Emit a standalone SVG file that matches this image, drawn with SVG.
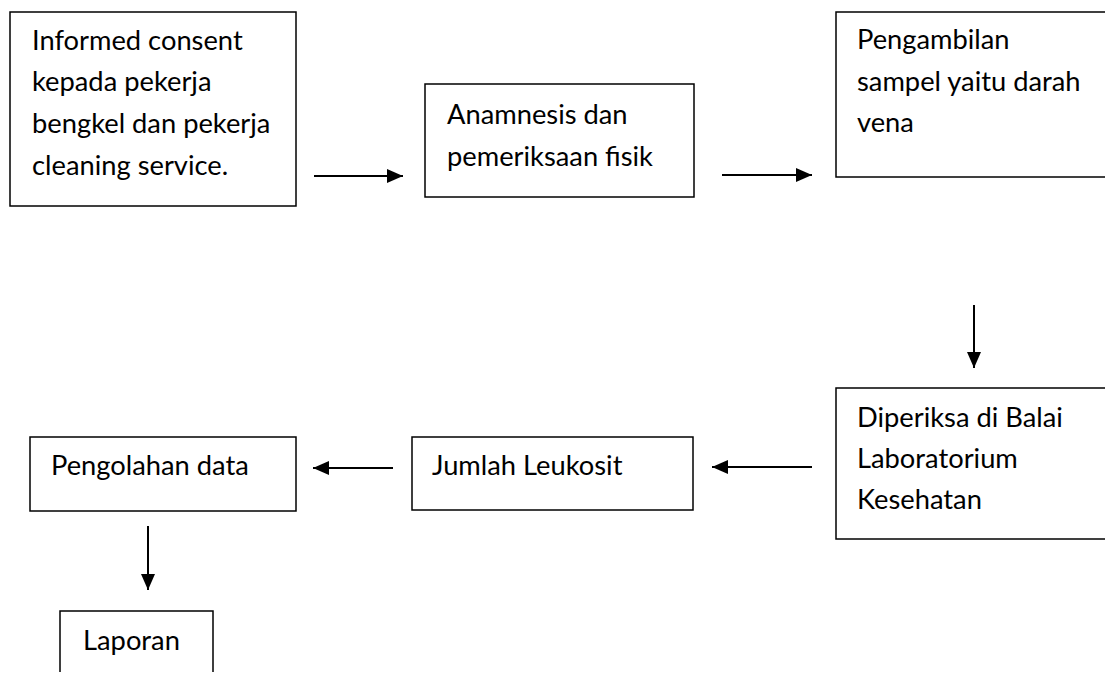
<svg xmlns="http://www.w3.org/2000/svg" width="1105" height="674" viewBox="0 0 1105 674">
<style>
.box{fill:#fff;stroke:#000;stroke-width:1.5}
.t{font-family:Lato,"Open Sans","Liberation Sans",sans-serif;font-size:27.3px;fill:#000}
.c{stroke:#000;stroke-width:2;fill:none}
</style>
<defs>
<marker id="ah" markerWidth="16" markerHeight="14" refX="16" refY="7" orient="auto" markerUnits="userSpaceOnUse" viewBox="0 0 16 14">
<path d="M0,0 L16,7 L0,14 Z" fill="#000"/>
</marker>
</defs>
<rect width="1105" height="674" fill="#fff"/>
<g id="n1"><rect class="box" x="10" y="12" width="286" height="194"/>
<text class="t" x="32"><tspan x="32" y="50">Informed consent</tspan><tspan x="32" y="91">kepada pekerja</tspan><tspan x="32" y="133">bengkel dan pekerja</tspan><tspan x="32" y="175">cleaning service.</tspan></text></g>
<g id="n2"><rect class="box" x="425" y="84" width="269" height="113"/>
<text class="t"><tspan x="447" y="124">Anamnesis dan</tspan><tspan x="447" y="166">pemeriksaan fisik</tspan></text></g>
<g id="n3"><rect class="box" x="836" y="12" width="290" height="165"/>
<text class="t"><tspan x="857" y="49">Pengambilan</tspan><tspan x="857" y="91">sampel yaitu darah</tspan><tspan x="857" y="132">vena</tspan></text></g>
<g id="n4"><rect class="box" x="836" y="388" width="290" height="151"/>
<text class="t"><tspan x="857" y="427">Diperiksa di Balai</tspan><tspan x="857" y="468">Laboratorium</tspan><tspan x="857" y="509">Kesehatan</tspan></text></g>
<g id="n5"><rect class="box" x="412" y="437" width="281" height="73"/>
<text class="t" x="432" y="475">Jumlah Leukosit</text></g>
<g id="n6"><rect class="box" x="30" y="437" width="266" height="74"/>
<text class="t" x="51" y="475">Pengolahan data</text></g>
<g id="n7"><path class="box" d="M60,672 V611 H213 V672" fill="none"/>
<text class="t" x="83" y="650">Laporan</text></g>
<g id="connectors">
<path class="c" d="M314,176 H403" marker-end="url(#ah)"/>
<path class="c" d="M722,175 H812" marker-end="url(#ah)"/>
<path class="c" d="M974,305 V368" marker-end="url(#ah)"/>
<path class="c" d="M812,467 H712" marker-end="url(#ah)"/>
<path class="c" d="M393,468 H313" marker-end="url(#ah)"/>
<path class="c" d="M148,526 V590" marker-end="url(#ah)"/>
</g>
</svg>
